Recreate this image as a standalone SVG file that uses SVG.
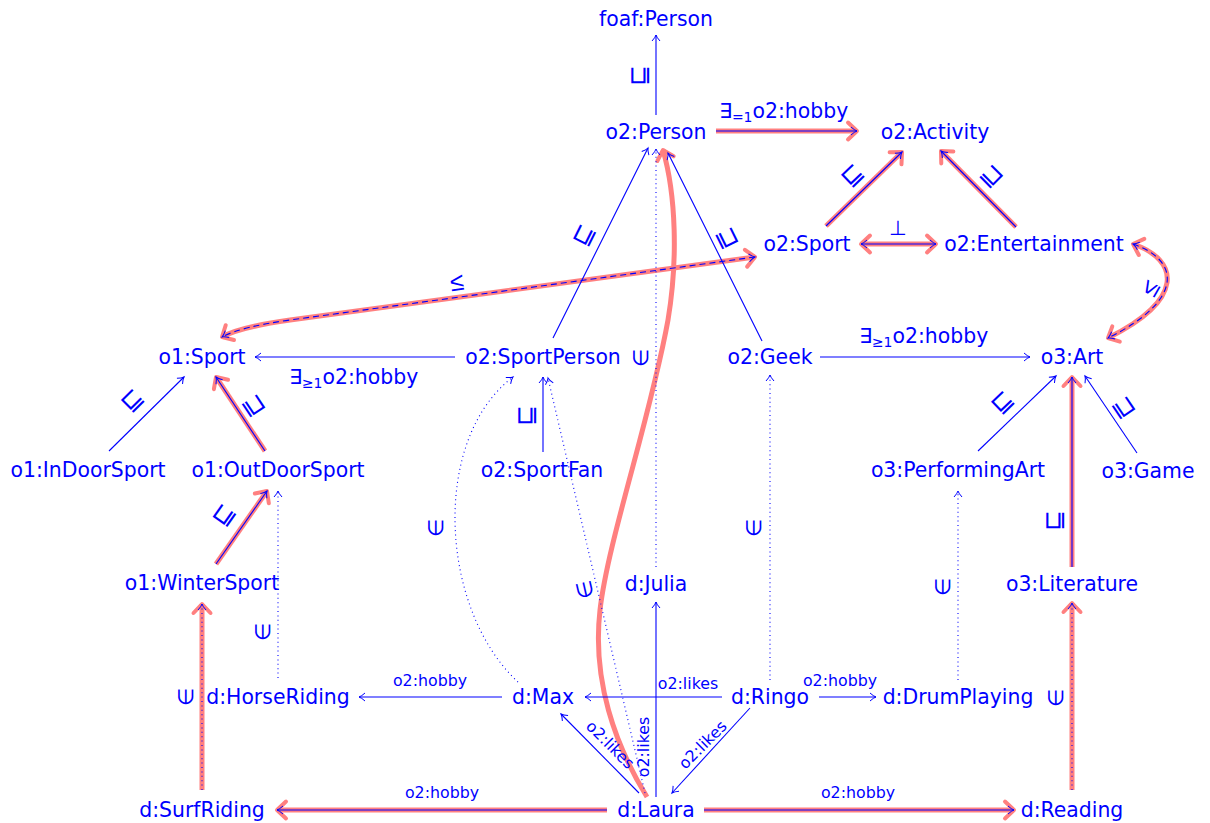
<svg xmlns="http://www.w3.org/2000/svg" width="1210" height="823" viewBox="0 0 1210 823">
  <style>
    .n { font-family: "DejaVu Sans", sans-serif; font-size: 20.4px; fill: #0000ff; text-anchor: middle; }
    .m { font-family: "DejaVu Sans", sans-serif; font-weight: 200; font-size: 21px; fill: #0000ff; text-anchor: middle; dominant-baseline: central; }
    .mb { font-size: 25px; }
    .q { font-family: "DejaVu Sans", sans-serif; font-size: 20.4px; fill: #0000ff; }
    .s { font-family: "DejaVu Sans", sans-serif; font-size: 15.8px; fill: #0000ff; text-anchor: middle; }
    .e { fill: none; stroke: #0000ff; stroke-width: 1.1; marker-end: url(#tip); }
    .both { marker-start: url(#tip); }
    .dot { stroke-dasharray: 1 3.4; }
    .dash { stroke-dasharray: 6 4; }
    .hl { fill: none; stroke: #ff8080; stroke-width: 5; marker-end: url(#rtip); }
    .hlb { marker-start: url(#rtip); }
  </style>
  <defs>
    <marker id="tip" markerUnits="userSpaceOnUse" orient="auto-start-reverse" markerWidth="12" markerHeight="12" refX="0" refY="0" overflow="visible">
      <path d="M-6,-4 Q-2.5,-0.8 0,0 Q-2.5,0.8 -6,4" fill="none" stroke="#0000ff" stroke-width="1"/>
    </marker>
    <marker id="rtip" markerUnits="userSpaceOnUse" orient="auto-start-reverse" markerWidth="20" markerHeight="20" refX="0" refY="0" overflow="visible">
      <path d="M-9,-8.5 L0,0 L-9,8.5" fill="none" stroke="#ff8080" stroke-width="4" stroke-linecap="round" stroke-linejoin="round"/>
    </marker>
  </defs>
  <rect width="1210" height="823" fill="#ffffff"/>

  <g id="connectors">
    <!-- highlighted path (drawn underneath) -->
    <g id="highlight">
      <path class="hl" d="M716,131 L857,131"/>
      <path class="hl" d="M826,226 L902,152"/>
      <path class="hl" d="M1016,227 L941,151"/>
      <path class="hl hlb" d="M861,244 L936,244"/>
      <path class="hl hlb" d="M755,257 L290,320 Q240,327 222,337"/>
      <path class="hl hlb" d="M1133,244 C1180,260 1185,300 1108,338"/>
      <path class="hl" d="M265,451 L216,377"/>
      <path class="hl" d="M216,564 L267,491"/>
      <path class="hl" d="M202,790 L202,604"/>
      <path class="hl" d="M607,810 L277,810"/>
      <path class="hl" d="M704,810 L1014,810"/>
      <path class="hl" d="M1072,790 L1072,603"/>
      <path class="hl" d="M1072,567 L1072,377"/>
      <path class="hl" stroke-width="4.5" d="M647,797 C615,745 592,680 600,610 C608,540 650,420 668,320 C678,260 676,195 663,150"/>
    </g>
    <!-- axioms and assertions -->
    <path class="e" d="M656,115 L656,35"/>
    <path class="e" d="M716,131 L857,131"/>
    <path class="e" d="M826,226 L902,152"/>
    <path class="e" d="M1016,227 L941,151"/>
    <path class="e both" d="M861,244 L936,244"/>
    <path class="e both dash" d="M755,257 L290,320 Q240,327 222,337"/>
    <path class="e both dash" d="M1133,244 C1180,260 1185,300 1108,338"/>
    <path class="e" d="M455,357 L255,357"/>
    <path class="e" d="M820,357 L1030,357"/>
    <path class="e" d="M553,338 L648,148"/>
    <path class="e" d="M762,341 L668,153"/>
    <path class="e dot" d="M656,567 L656,149"/>
    <path class="e" d="M109,451 L184,377"/>
    <path class="e" d="M265,451 L216,377"/>
    <path class="e" d="M543,452 L543,377"/>
    <path class="e dot" d="M645,793 L548,378"/>
    <path class="e dot" d="M518,682 C440,610 430,440 513,377"/>
    <path class="e dot" d="M770,680 L770,375"/>
    <path class="e" d="M978,451 L1056,376"/>
    <path class="e" d="M1137,453 L1085,376"/>
    <path class="e" d="M1072,567 L1072,377"/>
    <path class="e dot" d="M958,680 L958,491"/>
    <path class="e" d="M216,564 L267,491"/>
    <path class="e dot" d="M278,678 L278,491"/>
    <path class="e dot" d="M202,790 L202,604"/>
    <path class="e dot" d="M1072,790 L1072,603"/>
    <path class="e" d="M502,697 L359,697"/>
    <path class="e" d="M722,697 L585,697"/>
    <path class="e" d="M819,697 L876,697"/>
    <path class="e" d="M656,797 L656,602"/>
    <path class="e" d="M639,793 L561,714"/>
    <path class="e" d="M750,708 L672,793"/>
    <path class="e" d="M607,810 L277,810"/>
    <path class="e" d="M704,810 L1014,810"/>

    <!-- edge labels -->
    <g id="edge-labels">
      <text class="m mb" x="638" y="75" transform="rotate(-90 638 75)">⊑</text>
      <text class="q" x="719" y="118">∃<tspan font-size="14" dy="4">=1</tspan><tspan dy="-4">o2:hobby</tspan></text>
      <text class="m mb" x="852" y="175" transform="rotate(-44 852 175)">⊑</text>
      <text class="m mb" x="992" y="175" transform="rotate(45 992 175)">⊒</text>
      <text class="n" x="898" y="235" font-size="24">⊥</text>
      <text class="m mb" x="583" y="235" transform="rotate(-63.4 583 235)">⊑</text>
      <text class="m mb" x="728" y="238" transform="rotate(63.7 728 238)">⊒</text>
      <text class="m mb" x="457" y="282" transform="rotate(-8 457 282)">≤</text>
      <text class="m mb" x="1150" y="288" transform="rotate(-60 1150 288)">≤</text>
      <text class="q" x="289" y="384">∃<tspan font-size="14" dy="4">≥1</tspan><tspan dy="-4">o2:hobby</tspan></text>
      <text class="q" x="859" y="343">∃<tspan font-size="14" dy="4">≥1</tspan><tspan dy="-4">o2:hobby</tspan></text>
      <text class="m mb" x="132" y="400" transform="rotate(-44.6 132 400)">⊑</text>
      <text class="m mb" x="255" y="405" transform="rotate(56.3 255 405)">⊒</text>
      <text class="m mb" x="223" y="515" transform="rotate(-55 223 515)">⊑</text>
      <text class="m mb" x="525" y="415" transform="rotate(-90 525 415)">⊑</text>
      <text class="m mb" x="1002" y="402" transform="rotate(-44 1002 402)">⊑</text>
      <text class="m mb" x="1125" y="407" transform="rotate(56 1125 407)">⊒</text>
      <text class="m mb" x="1053" y="520" transform="rotate(-90 1053 520)">⊑</text>
      <text class="m" x="641" y="358" transform="rotate(-90 641 358)">∈</text>
      <text class="m" x="754" y="528" transform="rotate(-90 754 528)">∈</text>
      <text class="m" x="436" y="528" transform="rotate(-90 436 528)">∈</text>
      <text class="m" x="943" y="587" transform="rotate(-90 943 587)">∈</text>
      <text class="m" x="263" y="632" transform="rotate(-90 263 632)">∈</text>
      <text class="m" x="186" y="697" transform="rotate(-90 186 697)">∈</text>
      <text class="m" x="1056" y="698" transform="rotate(-90 1056 698)">∈</text>
      <text class="m" x="585" y="590" transform="rotate(-103 585 590)">∈</text>
      <text class="s" x="430" y="686">o2:hobby</text>
      <text class="s" x="688" y="689">o2:likes</text>
      <text class="s" x="840" y="686">o2:hobby</text>
      <text class="s" x="442" y="798">o2:hobby</text>
      <text class="s" x="858" y="798">o2:hobby</text>
      <text class="s" x="644" y="752" transform="rotate(-90 644 747)">o2:likes</text>
      <text class="s" x="610" y="750" transform="rotate(45 610 745)">o2:likes</text>
      <text class="s" x="703" y="750" transform="rotate(-45 703 745)">o2:likes</text>
    </g>
  </g>

  <g id="foaf-Person"><text class="n" x="656" y="26">foaf:Person</text></g>
  <g id="o2-Person"><text class="n" x="656" y="138.5">o2:Person</text></g>
  <g id="o2-Activity"><text class="n" x="935" y="138.5">o2:Activity</text></g>
  <g id="o2-Sport"><text class="n" x="807" y="251">o2:Sport</text></g>
  <g id="o2-Entertainment"><text class="n" x="1034" y="251">o2:Entertainment</text></g>
  <g id="o1-Sport"><text class="n" x="202" y="364">o1:Sport</text></g>
  <g id="o2-SportPerson"><text class="n" x="543" y="364">o2:SportPerson</text></g>
  <g id="o2-Geek"><text class="n" x="770" y="364">o2:Geek</text></g>
  <g id="o3-Art"><text class="n" x="1072" y="364">o3:Art</text></g>
  <g id="o1-InDoorSport"><text class="n" x="88" y="477">o1:InDoorSport</text></g>
  <g id="o1-OutDoorSport"><text class="n" x="278" y="477">o1:OutDoorSport</text></g>
  <g id="o2-SportFan"><text class="n" x="542" y="477">o2:SportFan</text></g>
  <g id="o3-PerformingArt"><text class="n" x="958" y="477">o3:PerformingArt</text></g>
  <g id="o3-Game"><text class="n" x="1148" y="478">o3:Game</text></g>
  <g id="o1-WinterSport"><text class="n" x="202" y="590">o1:WinterSport</text></g>
  <g id="d-Julia"><text class="n" x="656" y="591">d:Julia</text></g>
  <g id="o3-Literature"><text class="n" x="1072" y="591">o3:Literature</text></g>
  <g id="d-HorseRiding"><text class="n" x="278" y="704">d:HorseRiding</text></g>
  <g id="d-Max"><text class="n" x="543" y="704">d:Max</text></g>
  <g id="d-Ringo"><text class="n" x="770" y="704">d:Ringo</text></g>
  <g id="d-DrumPlaying"><text class="n" x="958" y="704">d:DrumPlaying</text></g>
  <g id="d-SurfRiding"><text class="n" x="202" y="817">d:SurfRiding</text></g>
  <g id="d-Laura"><text class="n" x="656" y="817">d:Laura</text></g>
  <g id="d-Reading"><text class="n" x="1072" y="817">d:Reading</text></g>
</svg>
